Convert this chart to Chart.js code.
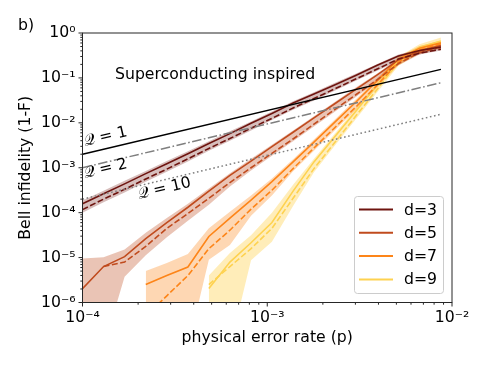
<!DOCTYPE html>
<html>
<head>
<meta charset="utf-8">
<script src="https://cdn.jsdelivr.net/npm/chart.js@4.4.0/dist/chart.umd.min.js"></script>
<style>
  html, body { margin: 0; padding: 0; background: #fff; }
  #wrap { width: 488px; height: 366px; }
</style>
</head>
<body>
<div id="wrap"><canvas id="bellChart" width="488" height="366"></canvas></div>
<script>
// physical error rates (x)
var errorRates = [1.0e-4, 1.30e-4, 1.69e-4, 2.20e-4, 2.86e-4, 3.72e-4, 4.83e-4, 6.28e-4, 8.17e-4,
                  1.06e-3, 1.38e-3, 1.79e-3, 2.33e-3, 3.03e-3, 3.94e-3, 5.13e-3, 6.67e-3, 8.71e-3];

// d=3
var d3Solid  = [1.58e-4, 2.63e-4, 4.37e-4, 7.41e-4, 1.23e-3, 2.04e-3, 3.47e-3, 5.75e-3, 9.77e-3,
                1.62e-2, 2.75e-2, 4.37e-2, 7.08e-2, 0.115, 0.191, 0.309, 0.407, 0.490];
var d3Dashed = [1.17e-4, 2.0e-4, 3.31e-4, 5.62e-4, 9.33e-4, 1.58e-3, 2.69e-3, 4.47e-3, 7.59e-3,
                1.26e-2, 2.14e-2, 3.47e-2, 5.75e-2, 9.55e-2, 0.158, 0.263, 0.355, 0.437];
var d3Hi     = [1.86e-4, 3.09e-4, 5.13e-4, 8.51e-4, 1.41e-3, 2.34e-3, 3.89e-3, 6.46e-3, 1.07e-2,
                1.78e-2, 3.02e-2, 4.79e-2, 7.76e-2, 0.126, 0.204, 0.331, 0.437, 0.525];
var d3Lo     = [1.0e-4, 1.70e-4, 2.82e-4, 4.90e-4, 8.13e-4, 1.38e-3, 2.40e-3, 3.98e-3, 6.76e-3,
                1.15e-2, 1.95e-2, 3.16e-2, 5.25e-2, 8.71e-2, 0.145, 0.240, 0.331, 0.407];

// d=5
var d5Solid  = [2.04e-6, 6.31e-6, 1.05e-5, 2.63e-5, 6.03e-5, 1.32e-4, 3.02e-4, 6.76e-4, 1.41e-3,
                2.95e-3, 6.17e-3, 1.29e-2, 2.69e-2, 5.62e-2, 0.117, 0.251, 0.398, 0.525];
var d5Dashed = [null, 6.31e-6, 7.94e-6, 1.78e-5, 4.47e-5, 9.55e-5, 2.09e-4, 4.68e-4, 1.0e-3,
                2.09e-3, 4.37e-3, 9.33e-3, 2.0e-2, 4.27e-2, 9.12e-2, 0.209, 0.363, 0.490];
var d5Hi     = [9.55e-6, 1.02e-5, 1.51e-5, 3.55e-5, 7.59e-5, 1.58e-4, 3.47e-4, 7.59e-4, 1.58e-3,
                3.24e-3, 6.76e-3, 1.41e-2, 2.95e-2, 6.17e-2, 0.126, 0.269, 0.427, 0.562];
var d5Lo     = [1e-7, 1e-7, 3.72e-6, 1.12e-5, 2.82e-5, 6.61e-5, 1.51e-4, 3.80e-4, 8.71e-4,
                1.86e-3, 3.89e-3, 8.32e-3, 1.78e-2, 3.80e-2, 8.32e-2, 0.191, 0.331, 0.447];

// d=7
var d7Solid  = [null, null, null, 2.51e-6, 3.98e-6, 6.17e-6, 2.95e-5, 7.59e-5, 1.91e-4,
                4.90e-4, 1.35e-3, 3.72e-3, 1.05e-2, 2.95e-2, 8.71e-2, 0.263, 0.457, 0.603];
var d7Dashed = [null, null, null, 5.01e-7, 1.41e-6, 3.98e-6, 1.58e-5, 4.07e-5, 1.20e-4,
                3.16e-4, 9.55e-4, 2.75e-3, 7.94e-3, 2.29e-2, 6.92e-2, 0.224, 0.417, 0.575];
var d7Hi     = [null, null, null, 5.01e-6, 7.59e-6, 1.20e-5, 4.47e-5, 1.05e-4, 2.40e-4,
                5.75e-4, 1.55e-3, 4.27e-3, 1.20e-2, 3.39e-2, 0.100, 0.295, 0.513, 0.676];
var d7Lo     = [null, null, null, 1e-7, 1e-7, 1e-7, 8.91e-6, 1.91e-5, 8.51e-5,
                2.40e-4, 8.32e-4, 2.40e-3, 6.92e-3, 2.0e-2, 6.03e-2, 0.195, 0.372, 0.513];

// d=9
var d9Solid  = [null, null, null, null, null, null, 2.04e-6, 7.94e-6, 2.14e-5,
                6.03e-5, 3.02e-4, 1.35e-3, 5.01e-3, 1.86e-2, 6.92e-2, 0.251, 0.479, 0.661];
var d9Dashed = [null, null, null, null, null, null, 2.51e-6, 6.31e-6, 1.58e-5,
                4.47e-5, 2.09e-4, 9.55e-4, 3.72e-3, 1.45e-2, 5.62e-2, 0.224, 0.447, 0.631];
var d9Hi     = [null, null, null, null, null, null, 3.98e-6, 1.26e-5, 3.16e-5,
                1.0e-4, 4.17e-4, 1.58e-3, 5.89e-3, 2.19e-2, 8.13e-2, 0.295, 0.562, 0.794];
var d9Lo     = [null, null, null, null, null, null, 1e-7, 1e-7, 8.71e-6,
                2.24e-5, 1.41e-4, 7.94e-4, 3.16e-3, 1.23e-2, 4.79e-2, 0.186, 0.355, 0.501];

// reference lines (straight in log-log), end points
var refX   = [1.0e-4, 8.71e-3];
var q1Line = [2.0e-3, 0.155];
var q2Line = [1.0e-3, 0.078];
var q10Line = [2.0e-4, 0.0155];

var xTicks = [1e-4, 1e-3, 1e-2];
var yTicks = [1e-6, 1e-5, 1e-4, 1e-3, 1e-2, 1e-1, 1e0];
var seriesLabels = ['d=3', 'd=5', 'd=7', 'd=9'];

var colors = ['#6e140f', '#c04b1e', '#fd8519', '#fed250'];
var bandColors = ['rgba(110,20,15,0.28)', 'rgba(192,75,30,0.33)', 'rgba(253,133,25,0.33)', 'rgba(254,210,80,0.40)'];
var FONT = 'DejaVu Sans';
var FS = 15.7;

function pts(xs, ys) {
  var out = [];
  for (var i = 0; i < xs.length; i++) {
    if (ys[i] !== null) out.push({x: xs[i], y: ys[i]});
  }
  return out;
}

var groups = [
  [d3Solid, d3Dashed, d3Hi, d3Lo],
  [d5Solid, d5Dashed, d5Hi, d5Lo],
  [d7Solid, d7Dashed, d7Hi, d7Lo],
  [d9Solid, d9Dashed, d9Hi, d9Lo]
];

var datasets = [];
groups.forEach(function(g, k) {
  datasets.push({ label: seriesLabels[k] + ' lo', data: pts(errorRates, g[3]), borderWidth: 0,
    pointRadius: 0, fill: false, order: 5 });
  datasets.push({ label: seriesLabels[k] + ' hi', data: pts(errorRates, g[2]), borderWidth: 0,
    pointRadius: 0, fill: '-1', backgroundColor: bandColors[k], order: 5 });
});
groups.forEach(function(g, k) {
  datasets.push({ label: seriesLabels[k], data: pts(errorRates, g[0]), borderColor: colors[k],
    borderWidth: 1.6, pointRadius: 0, fill: false, order: 2 });
  datasets.push({ label: seriesLabels[k] + ' dashed', data: pts(errorRates, g[1]), borderColor: colors[k],
    borderWidth: 1.6, borderDash: [6, 2.5], pointRadius: 0, fill: false, order: 2 });
});
datasets.push({ label: 'Q=1', data: pts(refX, q1Line), borderColor: '#000', borderWidth: 1.5,
  pointRadius: 0, fill: false, order: 1 });
datasets.push({ label: 'Q=2', data: pts(refX, q2Line), borderColor: '#7f7f7f', borderWidth: 1.5,
  borderDash: [9.5, 2.5, 1.6, 2.5], pointRadius: 0, fill: false, order: 1 });
datasets.push({ label: 'Q=10', data: pts(refX, q10Line), borderColor: '#7f7f7f', borderWidth: 1.5,
  borderDash: [1.6, 2.6], pointRadius: 0, fill: false, order: 1 });

var sup = {'-': '\u207B', '0': '\u2070', '1': '\u00B9', '2': '\u00B2', '3': '\u00B3', '4': '\u2074',
  '5': '\u2075', '6': '\u2076', '7': '\u2077', '8': '\u2078', '9': '\u2079'};
function powLabel(v) {
  var e = String(Math.round(Math.log10(v)));
  return '10' + e.split('').map(function(c) { return sup[c]; }).join('');
}

var decor = {
  id: 'decor',
  afterDraw: function(chart) {
    var ctx = chart.ctx, a = chart.chartArea, xs = chart.scales.x, ys = chart.scales.y;
    ctx.save();
    ctx.strokeStyle = '#262626';
    ctx.lineWidth = 1;
    function seg(x1, y1, x2, y2) { ctx.beginPath(); ctx.moveTo(x1, y1); ctx.lineTo(x2, y2); ctx.stroke(); }
    // ticks
    xTicks.forEach(function(v) { var px = xs.getPixelForValue(v); seg(px, a.bottom, px, a.bottom + 4); });
    yTicks.forEach(function(v) { var py = ys.getPixelForValue(v); seg(a.left - 4, py, a.left, py); });
    for (var e = -4; e < -2; e++) {
      for (var m = 2; m < 10; m++) {
        var px = xs.getPixelForValue(m * Math.pow(10, e));
        seg(px, a.bottom, px, a.bottom + 2.2);
      }
    }
    for (var e2 = -6; e2 < 0; e2++) {
      for (var m2 = 2; m2 < 10; m2++) {
        var py = ys.getPixelForValue(m2 * Math.pow(10, e2));
        seg(a.left - 2.2, py, a.left, py);
      }
    }
    ctx.strokeRect(a.left, a.top, a.right - a.left, a.bottom - a.top);

    // texts
    ctx.fillStyle = '#000';
    ctx.font = FS + 'px "' + FONT + '"';
    ctx.textBaseline = 'alphabetic';
    ctx.textAlign = 'left';
    ctx.fillText('b)', 18, 30);
    ctx.fillText('Superconducting inspired', 115, 79);
    var ang = -0.232;
    [['\uD835\uDCAC = 1', 85, 146], ['\uD835\uDCAC = 2', 85, 178], ['\uD835\uDCAC = 10', 139, 199]].forEach(function(t) {
      ctx.save();
      ctx.translate(t[1], t[2]);
      ctx.rotate(ang);
      ctx.fillText(t[0], 0, 0);
      ctx.restore();
    });

    // legend
    var lx = 354.5, ly = 196.5, lw = 89, lh = 97;
    ctx.beginPath();
    ctx.roundRect(lx, ly, lw, lh, 3);
    ctx.fillStyle = 'rgba(255,255,255,0.8)';
    ctx.fill();
    ctx.strokeStyle = '#cccccc';
    ctx.stroke();
    ctx.textBaseline = 'middle';
    seriesLabels.forEach(function(lab, k) {
      var y = 209.5 + k * 23.3;
      ctx.strokeStyle = colors[k];
      ctx.lineWidth = 2;
      seg(359, y, 393, y);
      ctx.fillStyle = '#000';
      ctx.fillText(lab, 404, y + 1);
    });
    ctx.restore();
  }
};

Chart.defaults.font.family = FONT;
Chart.defaults.font.size = FS;
Chart.defaults.color = '#000';

var ctx = document.getElementById('bellChart').getContext('2d');
var myChart = new Chart(ctx, {
  type: 'line',
  data: { datasets: datasets },
  options: {
    responsive: false,
    devicePixelRatio: 1,
    animation: false,
    layout: { padding: { left: 0, right: 36, top: 33, bottom: 0 } },
    plugins: { legend: { display: false }, tooltip: { enabled: false } },
    elements: { line: { tension: 0 } },
    scales: {
      x: {
        type: 'logarithmic', min: 1e-4, max: 1e-2,
        afterBuildTicks: function(s) { s.ticks = xTicks.map(function(v) { return {value: v}; }); },
        afterFit: function(s) { s.height = 63.5; },
        ticks: { callback: function(v) { return powLabel(v); }, padding: 6, maxRotation: 0, autoSkip: false },
        grid: { display: false, drawTicks: false },
        border: { display: false },
        title: { display: true, text: 'physical error rate (p)', padding: { top: 0, bottom: 19 } }
      },
      y: {
        type: 'logarithmic', min: 1e-6, max: 1,
        afterBuildTicks: function(s) { s.ticks = yTicks.map(function(v) { return {value: v}; }); },
        afterFit: function(s) { s.width = 82.5; },
        ticks: { callback: function(v) { return powLabel(v); }, padding: 7, autoSkip: false },
        grid: { display: false, drawTicks: false },
        border: { display: false },
        title: { display: true, text: 'Bell infidelity (1-F)', padding: { top: 16.5, bottom: 0 } }
      }
    }
  },
  plugins: [decor]
});
</script>
</body>
</html>
